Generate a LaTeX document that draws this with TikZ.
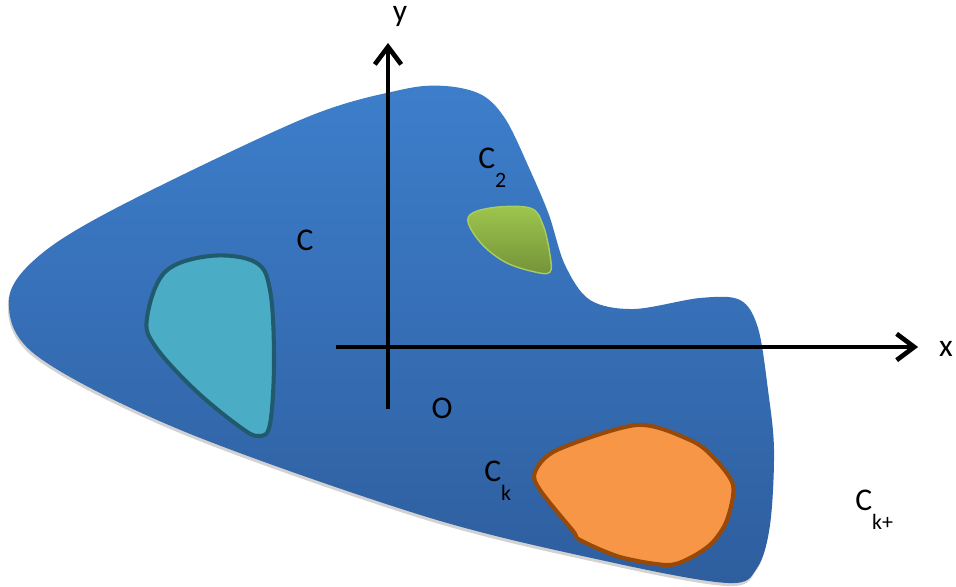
\documentclass[tikz,border=0pt]{standalone}
\usepackage{fontspec}
\setmainfont{Carlito}
\usepackage{xcolor}
\usepackage{tikz}
\usetikzlibrary{arrows.meta, positioning, calc}
\definecolor{regiontop}{RGB}{61, 126, 203}
\definecolor{regionbot}{RGB}{46, 94, 158}
\definecolor{holecyan}{RGB}{75, 172, 198}
\definecolor{holeteal}{RGB}{32, 90, 108}
\definecolor{holegreentop}{RGB}{158, 198, 76}
\definecolor{holegreenbot}{RGB}{116, 146, 58}
\definecolor{holegreenline}{RGB}{168, 205, 95}
\definecolor{holeorange}{RGB}{247, 150, 70}
\definecolor{holebrown}{RGB}{152, 72, 7}
\newcommand{\lowidx}[1]{\raisebox{-0.6em}{\fontsize{12.5pt}{13pt}\selectfont #1}}

\begin{document}
\begin{tikzpicture}[
    x=0.02cm, y=-0.02cm,
    lbl/.style={font=\fontsize{18pt}{19pt}\selectfont, inner sep=0pt},
    axis/.style={line width=2.6pt, -{Straight Barb[length=10pt, width=15pt, line width=2.6pt]}},
    axisshadow/.style={axis, gray, opacity=0.4, shift={(1,4)}}
]
    \useasboundingbox (0,0) rectangle (956,587);

    % Region C (with soft shadow)
    \fill[gray!35, shift={(-1,3)}] plot[smooth cycle, tension=0.55] coordinates {
        (9,300) (40,255) (122,205) (305,118) (400,90) (445,86) (482,95) (506,120)
        (530,170) (549,215) (565,265) (590,300) (634,309) (700,298) (740,300)
        (758,328) (768,390) (774,450) (770,525) (757,568) (728,583) (610,562)
        (427,517) (183,431) (37,356)};
    \shade[top color=regiontop, bottom color=regionbot] plot[smooth cycle, tension=0.55] coordinates {
        (9,300) (40,255) (122,205) (305,118) (400,90) (445,86) (482,95) (506,120)
        (530,170) (549,215) (565,265) (590,300) (634,309) (700,298) (740,300)
        (758,328) (768,390) (774,450) (770,525) (757,568) (728,583) (610,562)
        (427,517) (183,431) (37,356)};

    % Hole C1
    \draw[holeteal, fill=holecyan, line width=2.3pt] plot[smooth cycle, tension=0.6] coordinates {
        (147,318) (165,272) (210,256) (255,262) (270,290) (274,360) (270,424)
        (259,436) (240,427) (195,390) (155,346)};

    % Hole C2
    \shade[top color=holegreentop, bottom color=holegreenbot, draw=holegreenline, line width=0.8pt]
        plot[smooth cycle, tension=0.6] coordinates {
        (468,218) (490,208) (530,208) (543,225) (550,255) (550,272) (535,272)
        (505,262) (480,242)};

    % Hole Ck
    \draw[holebrown, fill=holeorange, line width=2.3pt] plot[smooth cycle, tension=0.5] coordinates {
        (535,472) (557,450) (637,425) (690,440) (713,457) (733,485) (727,520)
        (712,543) (690,558) (667,565) (620,557) (580,540) (573,531) (540,490)};

    % Axes
    \coordinate (xstart) at (336,347);
    \coordinate (xend) at (918,347);
    \coordinate (ystart) at (388,409);
    \coordinate (yend) at (388,43);
    \draw[axisshadow] (xstart) -- (xend);
    \draw[axisshadow] (ystart) -- (yend);
    \draw[axis] (xstart) -- (xend);
    \draw[axis] (ystart) -- (yend);

    % Labels
    \node[lbl] (ylabel) at (400,17) {y};
    \node[lbl] (xlabel) at (946,349) {x};
    \node[lbl] (olabel) at (442,408) {O};
    \node[lbl] (clabel) at (305,240) {C};
    \node[lbl, anchor=west] (c2label) at (478,168) {C\lowidx{2}};
    \node[lbl, anchor=west] (cklabel) at (484,481) {C\lowidx{k}};
    \node[lbl, anchor=west] (ckplabel) at (855,510) {C\lowidx{k+}};
\end{tikzpicture}
\end{document}
